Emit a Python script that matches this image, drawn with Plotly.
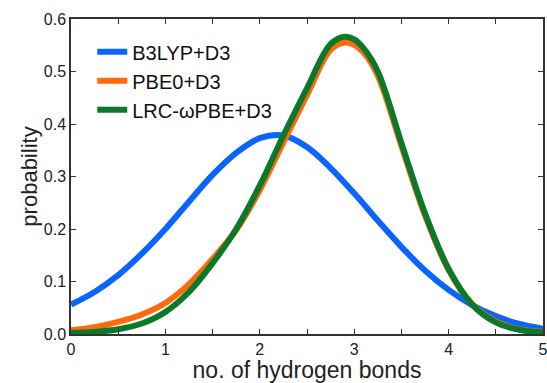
import plotly.graph_objects as go

x_blue = [0, 0.25, 0.5, 0.75, 1.0, 1.25, 1.5, 1.75, 2.0, 2.25, 2.5, 2.75, 3.0, 3.25, 3.5, 3.75, 4.0, 4.25, 4.5, 4.75, 5.0]
y_blue = [0.056, 0.080, 0.112, 0.153, 0.200, 0.252, 0.303, 0.345, 0.373, 0.378, 0.356, 0.316, 0.268, 0.216, 0.166, 0.121, 0.084, 0.055, 0.034, 0.019, 0.010]

x_pg = [0, 0.25, 0.5, 0.75, 1.0, 1.25, 1.5, 1.75, 2.0, 2.25, 2.5, 2.75, 2.9, 3.0, 3.1, 3.25, 3.5, 3.75, 4.0, 4.25, 4.5, 4.75, 5.0]
y_orange = [0.007, 0.013, 0.023, 0.037, 0.059, 0.095, 0.143, 0.198, 0.274, 0.365, 0.455, 0.541, 0.555, 0.551, 0.536, 0.492, 0.358, 0.226, 0.122, 0.057, 0.024, 0.009, 0.004]
y_green = [0.002, 0.004, 0.009, 0.020, 0.042, 0.080, 0.135, 0.200, 0.283, 0.378, 0.468, 0.552, 0.566, 0.561, 0.544, 0.500, 0.364, 0.230, 0.124, 0.056, 0.022, 0.008, 0.003]

names = ["B3LYP+D3", "PBE0+D3", "LRC-ωPBE+D3"]
colors = ["#0a64ff", "#ff6a0a", "#0a7a2a"]

FONT = "Liberation Sans, Arial, Helvetica"

fig = go.Figure()
for xs, ys, n, c in zip([x_blue, x_pg, x_pg], [y_blue, y_orange, y_green], names, colors):
    fig.add_trace(go.Scatter(x=xs, y=ys, mode="lines", name=n,
                             line=dict(color=c, width=6, shape="spline", smoothing=1.0)))

axis_common = dict(showline=True, linecolor="#333333", linewidth=1.5, mirror="ticks",
                   ticks="inside", ticklen=5, tickcolor="#333333", tickwidth=1.2,
                   showgrid=False, zeroline=False, automargin=False,
                   ticklabeloverflow="allow",
                   tickfont=dict(family=FONT, size=16, color="#222222"))

fig.update_xaxes(range=[0, 5], dtick=1, tick0=0,
                 minor=dict(dtick=0.5, ticks="inside", ticklen=5, tickcolor="#333333", tickwidth=1.2, showgrid=False),
                 title=dict(text="no. of hydrogen bonds", font=dict(family=FONT, size=23, color="#222222"), standoff=9),
                 **axis_common)
fig.update_yaxes(range=[0, 0.6], dtick=0.1, tick0=0, tickformat=".1f",
                 title=dict(text="probability", font=dict(family=FONT, size=22, color="#222222"), standoff=0),
                 **axis_common)

fig.update_layout(width=547, height=383, margin=dict(l=71, r=4, t=19, b=49),
                  paper_bgcolor="white", plot_bgcolor="white",
                  legend=dict(x=0.045, y=0.958, xanchor="left", yanchor="top",
                              font=dict(family=FONT, size=20, color="#111111"),
                              bgcolor="rgba(0,0,0,0)", itemwidth=30, tracegroupgap=0))

fig.write_html("out.html")
